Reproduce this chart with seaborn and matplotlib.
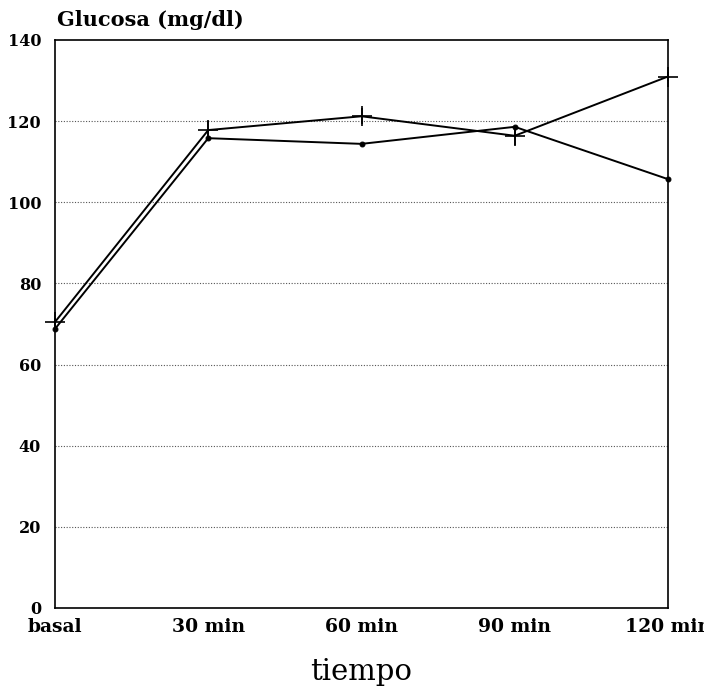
import matplotlib
matplotlib.use("Agg")
import matplotlib.pyplot as plt
import seaborn as sns
import pandas as pd
import numpy as np

categories = ["basal", "30 min", "60 min", "90 min", "120 min"]
serie_cruz = [70.5, 117.8, 121.2, 116.4, 131.0]
err_cruz = [1.0, 2.2, 2.0, 2.2, 1.0]
serie_punto = [68.8, 115.8, 114.4, 118.6, 105.7]
y_ticks = [0, 20, 40, 60, 80, 100, 120, 140]

sns.set_style("white")
plt.rcParams["font.family"] = ["DejaVu Serif"]
plt.rcParams["text.color"] = "black"
plt.rcParams["xtick.color"] = "black"
plt.rcParams["ytick.color"] = "black"

df = pd.DataFrame({
    "x": list(range(len(categories))) * 2,
    "y": serie_cruz + serie_punto,
    "serie": ["cruz"] * len(categories) + ["punto"] * len(categories),
})

fig = plt.figure(figsize=(7.04, 6.88), dpi=100)
ax = fig.add_axes([55 / 704, 1 - 608 / 688, (668 - 55) / 704, (608 - 40) / 688])

sns.lineplot(data=df[df.serie == "cruz"], x="x", y="y", ax=ax, color="black",
             linewidth=1.4, marker="+", markersize=14, markeredgewidth=1.2,
             markeredgecolor="black", legend=False, clip_on=False)
sns.lineplot(data=df[df.serie == "punto"], x="x", y="y", ax=ax, color="black",
             linewidth=1.4, marker="o", markersize=3.5, markeredgecolor="black",
             legend=False, clip_on=False)
ax.errorbar(range(len(categories)), serie_cruz, yerr=err_cruz, fmt="none",
            ecolor="black", elinewidth=1.2, capsize=0, clip_on=False)

ax.set_xlim(0, len(categories) - 1)
ax.set_ylim(0, 140)
ax.set_yticks(y_ticks)
ax.set_yticklabels([str(v) for v in y_ticks], fontsize=11.5, fontweight="bold")
ax.set_xticks(range(len(categories)))
ax.set_xticklabels(categories, fontsize=13.5, fontweight="bold")
ax.tick_params(axis="both", direction="in", length=6, width=1, colors="black")
ax.tick_params(axis="x", pad=7)
ax.tick_params(axis="y", length=5, pad=10)

for v in y_ticks[1:-1]:
    ax.axhline(v, color="#555555", linestyle=(0, (1, 1.5)), linewidth=0.8, zorder=0)

for s in ax.spines.values():
    s.set_color("black")
    s.set_linewidth(1.2)

ax.set_xlabel("tiempo", fontsize=21, labelpad=16, color="black")
ax.set_ylabel("")
fig.text(57 / 704, 1 - 20 / 688, "Glucosa (mg/dl)", fontsize=15, fontweight="bold",
         ha="left", va="center", color="black")

fig.savefig("out.png", dpi=100)
